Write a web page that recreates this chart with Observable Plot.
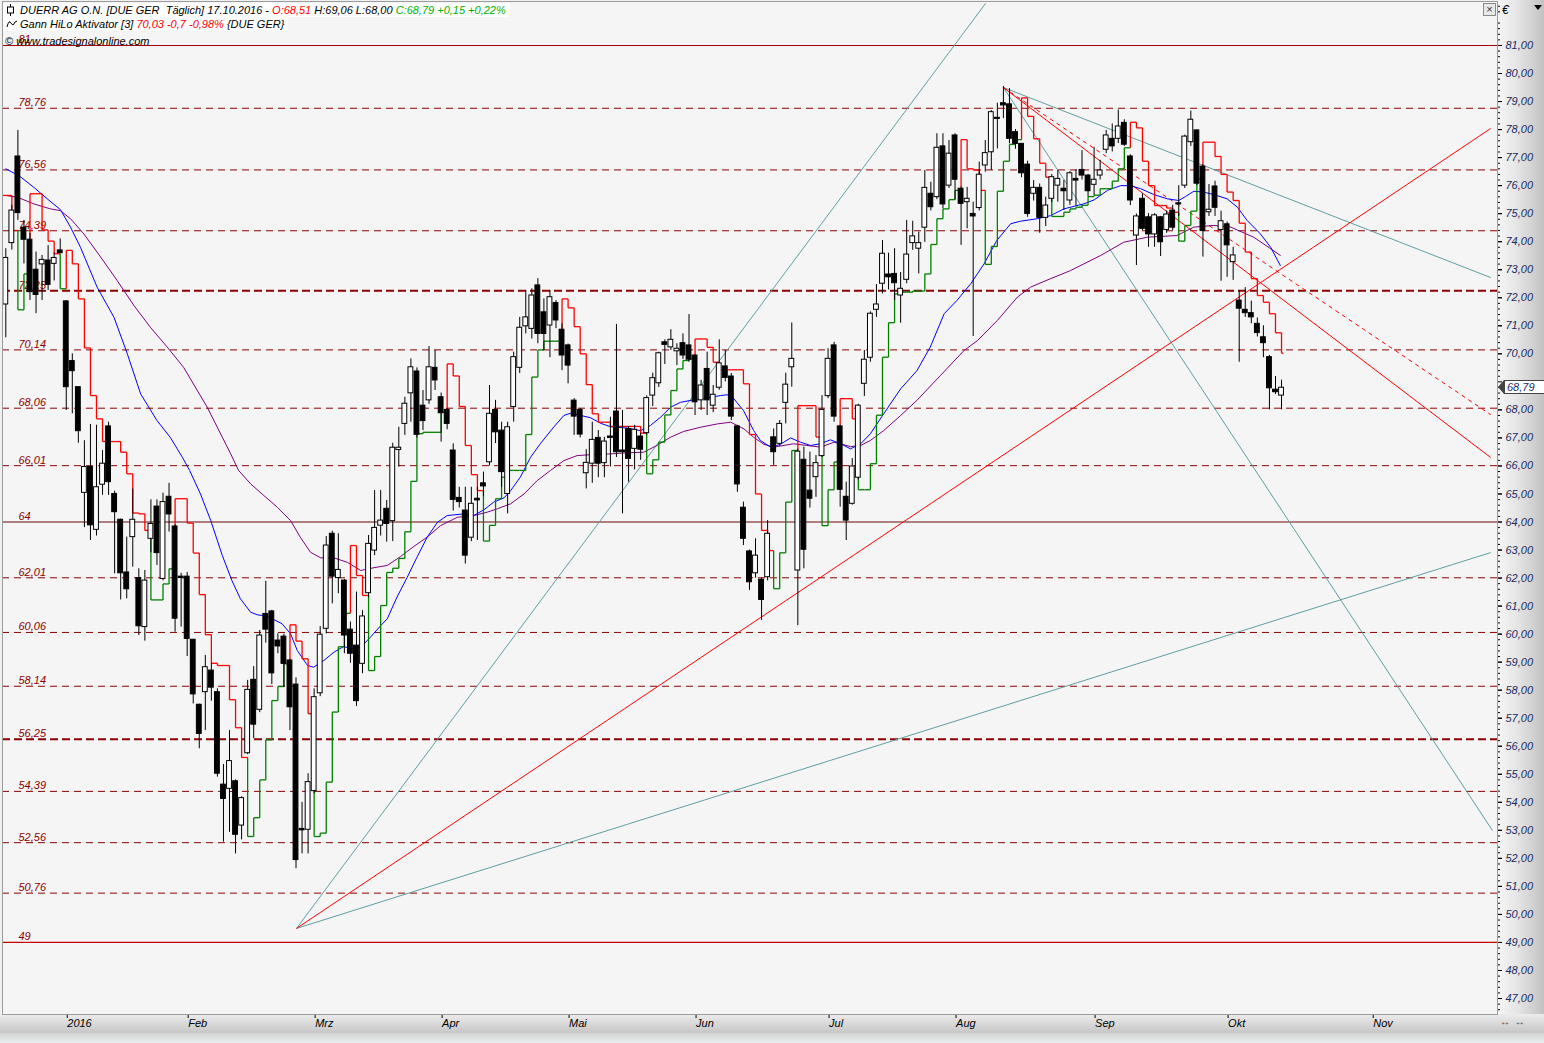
<!DOCTYPE html>
<html lang="de">
<head>
<meta charset="utf-8">
<script src="https://cdn.jsdelivr.net/npm/d3@7"></script>
<script src="https://cdn.jsdelivr.net/npm/@observablehq/plot@0.6"></script>
<style>
html,body{margin:0;padding:0;background:#f0f0f0;}
#wrap{position:relative;width:1544px;height:1043px;overflow:hidden;font-family:"Liberation Sans",Arial,sans-serif;font-style:italic;}
#rpanel{position:absolute;left:1497px;top:0;width:47px;height:1014px;background:linear-gradient(to right,#f6f6f6 0%,#e4e4e4 45%,#c2c2c2 100%);}
#bpanel{position:absolute;left:0;top:1014px;width:1544px;height:19px;background:linear-gradient(#ececec,#c6c6c6);}
#bstrip{position:absolute;left:0;top:1033px;width:1544px;height:10px;background:linear-gradient(#d2d2d2,#e9eeee);}
#chart{position:absolute;left:0;top:0;}
#chart svg text{font-style:italic;}
.hl{position:absolute;left:3px;height:14px;line-height:14px;font-size:11px;background:#fff;padding:0 4px 0 17px;white-space:pre;color:#000;}
.hl svg{position:absolute;left:3px;top:1px;}
.red{color:#ff0000;} .grn{color:#00b000;}
#copy{position:absolute;left:5px;top:35px;font-size:11px;color:#000;white-space:pre;}
#euro{position:absolute;left:1502px;top:3px;font-size:12px;color:#000;}
#tri{position:absolute;left:1534px;top:5px;width:0;height:0;border-left:4px solid transparent;border-right:4px solid transparent;border-top:5px solid #000;}
#xbox{position:absolute;left:1483px;top:3px;width:11px;height:11px;border:1px solid #8a8a8a;background:#e8e8e8;font-size:11px;line-height:10px;text-align:center;color:#333;font-style:normal;}
#lastbox{position:absolute;left:1504px;width:37px;height:12px;border:1px solid #444;background:#fff;font-size:11px;line-height:12px;color:#1a2b5e;padding-left:2px;}
#lastarrow{position:absolute;left:1498px;width:0;height:0;border-top:7px solid transparent;border-bottom:7px solid transparent;border-right:6px solid #444;}
#nav{position:absolute;left:1500px;top:1016px;font-size:10px;color:#333;font-style:normal;letter-spacing:1px;}
</style>
</head>
<body>
<div id="wrap">
  <div id="rpanel"></div>
  <div id="bpanel"></div>
  <div id="bstrip"></div>
  <div id="chart"></div>
  <div class="hl" style="top:3px;"><svg width="9" height="12"><line x1="4.5" y1="0" x2="4.5" y2="12" stroke="#000"/><rect x="1.5" y="3" width="6" height="6" fill="#fff" stroke="#000"/></svg>DUERR AG O.N. [DUE GER  Täglich] 17.10.2016 - <span class="red">O:68,51</span> H:69,06 L:68,00 <span class="grn">C:68,79 +0,15 +0,22%</span></div>
  <div class="hl" style="top:17px;"><svg width="12" height="12"><path d="M1 9 Q3 1 5 5 T9 4 L11 3" fill="none" stroke="#000"/></svg>Gann HiLo Aktivator [3] <span class="red">70,03 -0,7 -0,98%</span> {DUE GER}</div>
  <div id="copy">© www.tradesignalonline.com</div>
  <div id="xbox">×</div>
  <div id="euro">€</div>
  <div id="tri"></div>
  <div id="nav">↔ ↔</div>
</div>
<script>
// ---------- data ----------
const open = [71.76,73.95,77.04,74.5,74.07,73.0,73.19,73.33,73.21,73.69,
 71.87,69.74,68.81,65.04,65.96,63.72,65.33,67.41,65.0,64.08,
 62.2,63.46,62.0,60.25,63.4,64.55,61.97,64.9,63.84,62.05,
 62.05,59.8,57.48,57.93,58.7,57.93,54.63,54.48,54.75,53.17,
 55.75,58.37,57.3,60.72,60.81,59.77,59.91,59.06,58.2,53.05,
 53.02,54.4,57.89,60.19,63.58,62.0,61.91,60.16,59.59,58.94,
 61.46,62.98,63.87,64.47,64.03,66.57,67.5,68.59,69.37,68.15,
 68.34,69.5,68.45,68.0,66.55,64.86,64.41,63.44,64.83,65.38,
 66.13,68.0,67.26,65.0,68.1,69.5,70.98,70.89,72.44,71.48,
 71.01,71.81,70.86,70.3,68.33,68.0,65.74,66.08,67.0,66.1,
 67.05,67.94,66.55,67.32,66.61,67.05,67.17,68.51,68.95,70.41,
 70.23,70.09,70.38,70.3,69.94,68.34,69.46,68.15,68.79,69.55,
 69.19,67.41,64.51,62.95,62.17,61.94,62.03,67.02,66.79,68.25,
 69.52,62.27,66.22,65.12,65.6,66.35,68.49,70.3,67.41,64.9,
 64.65,65.58,68.93,69.86,71.57,72.5,72.83,72.85,72.08,72.64,
 73.95,73.75,74.5,75.71,75.59,77.4,76.0,77.79,75.89,75.41,
 74.99,75.2,76.72,77.19,78.42,78.94,78.9,77.91,77.49,76.75,
 75.71,75.92,74.85,75.53,76.0,75.89,75.47,76.24,76.56,76.36,
 76.03,76.36,77.28,77.67,77.67,78.24,77.04,74.22,75.53,74.87,
 74.26,74.87,74.42,75.11,75.33,76.0,77.55,77.97,76.68,75.05,
 75.97,74.42,74.62,73.27,71.9,71.57,71.45,71.07,70.59,69.88,
 68.72,68.51];
const high = [73.75,75.3,77.97,74.76,74.3,73.63,73.51,73.86,73.6,74.1,
 71.9,70.0,68.81,66.9,67.48,67.45,66.55,67.56,65.1,64.1,
 63.46,65.18,62.33,62.27,64.79,64.79,65.03,65.38,63.9,62.17,
 62.2,59.8,57.5,59.24,58.96,58.05,55.35,56.56,54.8,54.2,
 58.35,58.84,60.13,61.88,60.85,60.01,60.0,59.1,58.44,54.0,
 55.02,58.05,60.27,63.48,63.67,63.58,61.95,60.43,61.5,60.84,
 63.52,65.12,65.12,64.77,66.81,67.38,68.45,69.82,69.5,68.69,
 70.26,70.12,68.6,68.05,66.79,65.24,65.24,65.24,65.24,65.78,
 68.87,68.34,67.56,67.56,70.06,71.3,72.26,72.32,72.68,71.96,
 72.26,71.9,71.07,70.35,68.4,68.05,66.58,67.56,67.26,67.02,
 67.74,71.05,67.98,67.4,67.45,67.17,68.5,69.31,70.06,70.5,
 70.86,70.36,70.71,71.4,69.96,69.05,70.06,68.87,70.5,70.12,
 69.3,67.45,64.71,63.0,63.4,62.0,64.05,67.32,67.62,69.31,
 71.1,66.6,66.67,66.49,66.37,68.51,70.18,70.41,67.45,65.42,
 66.26,68.2,70.12,71.5,72.47,74.04,73.59,73.75,72.9,74.76,
 74.73,74.34,76.54,76.12,77.85,77.85,77.61,77.85,75.95,75.94,
 75.41,76.84,77.61,78.68,78.94,79.54,79.46,78.0,77.5,76.87,
 76.18,76.06,75.59,76.4,76.54,76.18,76.5,76.56,77.25,76.4,
 77.37,76.9,77.97,78.2,78.7,78.35,77.1,74.99,75.71,75.0,
 75.0,74.9,75.1,75.3,76.0,77.8,78.66,78.0,76.75,76.04,
 76.16,75.09,74.7,73.8,72.26,72.36,71.88,71.28,71.0,69.94,
 69.19,69.06];
const low = [70.57,73.7,74.76,73.21,71.9,71.43,71.9,72.26,72.6,73.58,
 67.98,67.86,66.81,63.8,63.34,63.5,64.95,64.95,62.15,61.22,
 61.26,62.39,59.95,59.75,62.9,62.45,61.9,63.64,60.07,60.25,
 59.2,57.51,55.91,56.56,57.61,54.9,52.58,52.93,52.16,52.66,
 55.7,56.27,57.2,59.68,58.2,59.3,58.1,56.56,51.63,52.16,
 52.16,54.3,57.77,60.01,61.08,61.44,59.3,58.96,57.42,58.59,
 61.3,62.8,63.5,63.28,63.3,65.96,67.09,67.56,67.0,67.26,
 68.2,68.69,66.85,67.29,64.39,64.5,62.5,63.3,63.34,64.9,
 66.0,66.8,65.24,64.29,67.56,69.3,70.71,70.53,70.36,70.12,
 69.86,70.9,69.4,68.93,67.09,67.0,65.18,65.38,65.58,65.58,
 65.96,66.3,64.29,65.42,65.86,66.2,67.1,68.12,68.8,69.62,
 70.12,69.58,69.8,69.7,67.8,67.98,67.8,67.9,68.7,69.0,
 67.62,65.06,63.16,61.56,62.0,60.49,61.9,66.02,66.7,67.5,
 68.81,60.3,62.33,64.5,64.88,66.3,68.4,67.56,64.53,63.34,
 64.6,65.5,68.48,69.7,71.3,72.14,72.28,71.9,71.09,72.5,
 73.69,72.85,73.98,75.1,75.5,75.17,75.9,75.49,73.87,74.46,
 70.62,75.1,76.48,76.54,77.31,78.39,77.49,77.3,76.28,74.87,
 75.45,74.3,74.54,75.4,75.41,75.11,75.3,75.26,76.2,75.6,
 75.65,76.2,77.14,77.2,77.5,77.4,75.29,73.15,74.4,73.8,
 73.8,73.47,74.3,74.4,74.9,75.9,77.4,76.0,73.45,74.9,
 74.9,72.59,72.73,72.62,69.7,71.3,71.07,70.6,69.86,68.0,
 68.55,68.0];
const close = [73.42,75.11,75.02,74.07,72.2,72.1,73.35,72.46,73.42,73.59,
 68.81,69.38,67.24,65.96,63.88,65.24,66.08,65.42,64.35,62.17,
 61.6,64.08,60.28,61.91,63.93,62.89,64.71,64.27,60.55,62.0,
 59.83,57.85,56.44,58.82,58.09,55.02,54.12,55.47,52.84,54.15,
 58.01,56.77,59.95,60.16,58.6,59.56,58.94,57.39,51.94,53.0,
 54.72,57.75,59.98,63.16,62.05,62.29,59.95,59.3,57.61,60.63,
 63.22,63.79,64.05,63.93,66.65,66.65,68.22,69.52,67.11,67.6,
 69.52,69.05,67.88,67.5,64.79,64.71,62.8,64.65,64.77,65.27,
 67.86,67.2,65.78,67.38,69.88,70.93,71.3,72.08,70.71,70.71,
 72.02,71.19,69.94,69.58,67.76,67.12,66.11,66.93,66.08,66.87,
 67.0,66.49,66.49,66.25,67.29,66.58,68.42,69.13,70.02,70.32,
 70.5,70.18,69.94,69.79,68.27,68.87,68.34,68.54,69.66,69.14,
 67.76,65.34,63.4,61.85,62.8,61.22,63.58,66.49,67.5,68.9,
 69.82,66.51,63.01,64.83,66.1,68.0,69.82,67.76,65.15,64.05,
 65.98,68.15,69.79,71.43,71.76,73.57,72.73,72.52,72.32,73.54,
 74.19,73.95,75.92,75.23,77.35,75.33,77.14,76.21,75.35,75.53,
 74.9,76.39,77.16,78.62,78.38,78.86,77.67,77.49,76.44,74.99,
 75.92,74.85,75.29,76.3,76.24,75.8,76.44,76.18,76.36,75.8,
 76.21,76.54,77.79,77.4,78.11,77.46,75.47,74.9,74.46,74.26,
 74.94,73.98,74.97,74.5,75.3,77.75,78.35,76.07,74.38,75.14,
 75.21,74.73,73.87,73.51,71.61,71.45,71.3,70.74,70.38,68.77,
 68.63,68.79];

// Gann HiLo Aktivator [3] values and state (G = below price / up, R = above price / down)
const hilo = [75.65,74.40,71.57,72.85,75.71,75.71,74.42,74.02,73.57,72.32,
 73.69,73.21,71.96,70.21,68.51,67.68,66.87,66.87,66.87,66.49,
 65.72,64.32,64.29,63.7,61.22,61.22,61.79,62.33,64.83,64.83,
 63.96,62.89,61.41,59.98,58.96,58.88,58.88,57.66,56.66,55.6,
 52.78,53.45,54.8,56.23,57.63,58.13,58.94,60.33,59.75,59.12,
 57.16,52.78,52.9,54.72,57.22,59.55,60.74,63.16,62.09,61.38,
 58.7,59.2,61.02,62.2,62.35,62.7,63.65,65.45,67.15,67.2,
 67.2,67.2,67.92,69.64,69.21,68.12,66.73,65.69,65.12,63.32,
 63.88,64.83,65.6,65.84,65.84,65.84,67.12,69.17,70.14,70.45,
 70.45,70.45,71.96,71.64,70.97,70.0,68.9,67.86,67.56,67.56,
 67.41,67.41,67.41,67.41,67.41,67.17,65.72,66.22,66.85,67.82,
 68.69,69.46,69.76,69.82,70.53,70.53,70.23,69.7,69.43,69.43,
 69.43,69.43,68.93,67.12,65.0,63.7,62.98,61.62,62.9,64.71,
 66.55,68.15,68.15,68.15,67.03,63.87,65.15,66.14,68.4,68.4,
 67.68,65.15,65.15,66.08,67.81,69.88,71.11,72.14,72.2,72.2,
 72.24,72.24,72.85,73.9,74.82,75.17,75.5,75.83,77.64,76.6,
 76.56,75.83,73.19,73.83,75.8,76.87,77.47,77.64,79.13,78.47,
 77.67,76.8,76.3,74.9,74.9,75.05,75.17,75.23,75.3,75.61,
 75.66,75.89,75.89,76.16,76.6,77.35,78.26,78.06,76.87,76.0,
 75.29,75.29,75.2,75.05,74.02,74.58,75.09,76.24,77.55,77.55,
 77.04,76.4,75.77,75.47,74.66,73.63,72.68,72.08,71.84,71.43,
 70.75,70.02];
const hiloState = ("RRGGRRRRRG"+"RRRRRRRRRR"+"RRRRGGGGRR"+"RRRRRRRRRR"+"GGGGGGGRRR"+
 "RGGGGGGRRR"+"GGGGGGGGGG"+"GGGRRRRRRG"+"GGGGGGGGGG"+"GGRRRRRRRR"+
 "RRRRRRGGGG"+"GGGGRRRRRR"+"RRRRRRRGGG"+"GRRRRGGGRR"+"RGGGGGGGGG"+
 "GGGGGGGGRR"+"RRGGGGGGRR"+"RRRGGGGGGG"+"GGGGGGRRRR"+"RRRRGGGGRR"+
 "RRRRRRRRRR"+"RR").split("");

// moving averages: [candle index, price]
const maFast = [[0,76.60],[2.15,76.36],[4.63,75.94],[6.85,75.53],[9.05,75.14],[10.7,74.52],[12.35,73.80],[15.1,72.38],[17.9,71.30],[20.1,70.00],[22.3,68.57],[25.0,67.62],[27.2,67.02],[29.2,66.31],[30.4,65.84],[32.2,65.0],[33.9,64.05],[35.8,62.81],[37.4,61.91],[38.8,61.26],[40.5,60.78],[41.6,60.69],[43.2,60.64],[45.7,60.37],[47.1,60.01],[48.2,59.42],[49.9,58.88],[50.9,58.82],[52.6,59.06],[54.3,59.36],[55.9,59.56],[57.0,59.48],[58.7,59.53],[60.3,59.89],[62.0,60.30],[63.1,60.55],[64.7,61.32],[66.4,62.03],[68.0,62.74],[69.7,63.46],[71.4,63.99],[73.0,64.23],[75.8,64.29],[77.4,64.23],[79.1,64.44],[80.7,64.71],[82.4,64.86],[83.5,65.12],[85.1,65.6],[86.8,66.31],[88.4,66.79],[90.6,67.38],[92.3,67.80],[93.4,67.88],[95.1,67.80],[96.7,67.72],[98.4,67.52],[100.0,67.40],[102.8,67.35],[105.0,67.26],[106.6,67.44],[108.3,67.74],[110.0,68.10],[111.6,68.27],[113.8,68.36],[116.0,68.43],[118.2,68.51],[119.3,68.54],[120.4,68.40],[122.0,67.98],[123.7,67.26],[124.8,66.91],[126.5,66.67],[128.1,66.77],[129.8,67.00],[131.4,66.85],[133.1,66.73],[134.7,66.79],[136.4,66.93],[138.1,66.79],[139.7,66.61],[141.4,66.79],[143.0,67.15],[145.2,67.86],[148.0,68.75],[150.7,69.40],[152.9,70.24],[155.2,71.43],[157.3,71.90],[159.6,72.5],[161.8,73.21],[163.9,74.04],[166.2,74.64],[167.8,74.73],[170.6,74.82],[172.8,74.93],[175.0,75.17],[178.3,75.35],[180.0,75.49],[182.2,75.83],[184.4,76.0],[186.0,76.0],[187.7,75.89],[189.9,75.68],[192.1,75.53],[194.0,75.47],[195.1,75.61],[196.5,75.80],[198.1,75.77],[199.8,75.68],[202.0,75.53],[203.7,75.23],[205.3,74.76],[207.5,74.28],[209.2,73.80],[210.8,73.15]];
const maSlow = [[0,75.65],[1.9,75.59],[4.6,75.35],[7.4,75.17],[9.0,75.11],[10.7,74.82],[12.9,74.28],[15.7,73.45],[18.4,72.62],[21.2,71.72],[23.9,70.95],[26.7,70.24],[29.4,69.52],[33.3,68.1],[37.2,66.43],[38.5,65.84],[40.5,65.36],[42.7,64.94],[44.9,64.53],[47.1,64.05],[48.7,63.46],[50.4,62.92],[52.1,62.72],[54.3,62.72],[56.5,62.56],[58.7,62.27],[60.9,62.37],[63.1,62.45],[65.3,62.77],[67.5,63.13],[69.7,63.46],[71.9,63.87],[74.7,64.17],[77.4,64.23],[79.6,64.35],[81.3,64.47],[83.5,64.65],[85.7,65.0],[87.9,65.48],[90.1,65.84],[92.3,66.19],[94.5,66.37],[97.3,66.41],[100.0,66.43],[102.8,66.47],[105.5,66.49],[107.7,66.73],[109.9,67.02],[112.1,67.23],[114.9,67.38],[117.7,67.50],[119.9,67.56],[122.1,67.32],[123.7,67.02],[125.4,66.77],[127.0,66.67],[130.3,66.79],[132.5,66.73],[134.8,66.67],[137.0,66.85],[139.7,66.69],[141.4,66.73],[143.0,66.91],[145.2,67.26],[148.0,67.8],[150.7,68.34],[154.6,69.23],[158.5,70.12],[160.7,70.47],[164.0,71.19],[167.3,72.02],[169.5,72.38],[172.8,72.68],[176.1,72.97],[181.1,73.51],[184.9,73.98],[188.8,74.16],[193.7,74.22],[196.5,74.52],[199.8,74.58],[202.6,74.52],[206.4,74.16],[209.2,73.75],[210.8,73.51]];

// horizontal levels
const levelValues = [81,78.76,76.56,74.39,72.25,70.14,68.06,66.01,64,62.01,60.06,58.14,56.25,54.39,52.56,50.76,49];
const levelLabels = ["81","78,76","76,56","74,39","72,25","70,14","68,06","66,01","64","62,01","60,06","58,14","56,25","54,39","52,56","50,76","49"];

// drawn trend lines: [index1, price1, index2, price2]
const tealLines = [[48.08,49.5,162.05,82.5],[48.08,49.5,245.6,62.91],[165,79.5,245.9,52.99],[165,79.5,245.6,72.72]];
const redLines = [[48.08,49.5,245.6,78.04],[165,79.5,245.6,66.3]];
const redDashedLines = [[165,79.5,245.6,67.83]];

// axes
const priceTicks = d3.range(47,82);
const monthIdx = [10,30,51,72,93,114,136,157,180,202,226];
const monthLabels = ["2016","Feb","Mrz","Apr","Mai","Jun","Jul","Aug","Sep","Okt","Nov"];

// ---------- build ----------
const n = open.length;
const lastClose = close[n-1];
const candles = open.map((o,i)=>({i,o,h:high[i],l:low[i],c:close[i]}));
const RED = "#ff0000", GREEN = "#008000";
const segs = [];
for (let i=0;i<n;i++){
  const col = hiloState[i]==="G" ? GREEN : RED;
  const xa = i===0 ? i-0.6 : i;
  const xb = i===n-1 ? i+0.3 : i+1;
  segs.push({x1:xa,x2:xb,y1:hilo[i],y2:hilo[i],col});
  if (i>0 && hilo[i]!==hilo[i-1]) segs.push({x1:i,x2:i,y1:hilo[i-1],y2:hilo[i],col});
}
const solidColor = new Map([[81,"#a00000"],[64,"#6a0a0a"],[49,"#c40000"]]);
const thick = new Set([72.25,56.25]);
const dashedLv = levelValues.filter(v=>!solidColor.has(v)&&!thick.has(v));
const thickLv = levelValues.filter(v=>thick.has(v));
const solidLv = levelValues.filter(v=>solidColor.has(v));
const minorTicks = d3.range(46.6,82.5,0.2).map(v=>+v.toFixed(1)).filter(v=>Math.abs(v-Math.round(v))>0.01);
// the axis label hidden behind the last-price marker (as in the reference)
const labelTicks = priceTicks.filter(v=>Math.abs(v-lastClose)>0.45);
const link4 = {x1:d=>d[0],y1:d=>d[1],x2:d=>d[2],y2:d=>d[3],clip:true};

const chart = Plot.plot({
  width:1544, height:1043,
  marginLeft:2, marginRight:47, marginTop:1, marginBottom:29,
  x:{type:"linear", domain:[-0.546,246.72]},
  y:{type:"linear", domain:[46.43,82.569]},
  color:{type:"identity"},
  style:{background:"transparent", fontFamily:"'Liberation Sans', Arial, sans-serif", fontSize:"11px", overflow:"visible"},
  marks:[
    Plot.frame({fill:"#f5f5f5", stroke:null}),
    Plot.ruleY(dashedLv, {stroke:"#8b0000", strokeWidth:1, strokeDasharray:"7,5"}),
    Plot.ruleY(thickLv, {stroke:"#8b0000", strokeWidth:2.2, strokeDasharray:"8,4"}),
    Plot.ruleY(solidLv, {stroke:d=>solidColor.get(d), strokeWidth:1.2}),
    Plot.text(levelValues, {y:d=>d, text:(d,i)=>levelLabels[i], frameAnchor:"left", dx:16, dy:-2, lineAnchor:"bottom", textAnchor:"start", fill:"#8b0000", fontSize:11, fontStyle:"italic"}),
    Plot.link(tealLines, {...link4, stroke:"#5f9ea0", strokeWidth:1}),
    Plot.link(redLines, {...link4, stroke:"#ff0000", strokeWidth:1}),
    Plot.link(redDashedLines, {...link4, stroke:"#ff0000", strokeWidth:1, strokeDasharray:"4,4"}),
    Plot.line(maSlow, {x:d=>d[0], y:d=>d[1], stroke:"#800080", strokeWidth:1}),
    Plot.line(maFast, {x:d=>d[0], y:d=>d[1], stroke:"#0000ff", strokeWidth:1}),
    Plot.link(segs, {x1:"x1", y1:"y1", x2:"x2", y2:"y2", stroke:"col", strokeWidth:1.3}),
    Plot.ruleX(candles, {x:"i", y1:"l", y2:"h", stroke:"#000", strokeWidth:1}),
    Plot.rect(candles, {x1:d=>d.i-0.4, x2:d=>d.i+0.4, y1:"o",
      y2:d=>Math.abs(d.c-d.o)<0.04 ? d.o+0.04 : d.c,
      fill:d=>d.c>=d.o ? "#ffffff" : "#000000", stroke:"#000", strokeWidth:1}),
    Plot.axisY(priceTicks, {anchor:"right", tickSize:4, tickFormat:()=>"", stroke:"#000"}),
    Plot.axisY(labelTicks, {anchor:"right", tickSize:4, tickPadding:4, tickFormat:d=>d.toFixed(2).replace(".",","), fill:"#1a2b5e", stroke:"#000", fontSize:11, fontStyle:"italic"}),
    Plot.axisY(minorTicks, {anchor:"right", tickSize:2, tickFormat:()=>"", stroke:"#000"}),
    Plot.axisX(monthIdx, {anchor:"bottom", tickSize:4, tickPadding:1, tickFormat:d=>monthLabels[monthIdx.indexOf(d)], textAnchor:"start", dx:1, fill:"#000", stroke:"#000", fontSize:11, fontStyle:"italic"}),
    Plot.frame({stroke:"#9c9c9c"})
  ]
});
document.getElementById("chart").appendChild(chart);

// last price marker on the right axis
const yLast = chart.scale("y").apply(lastClose);
const wrap = document.getElementById("wrap");
const arrow = document.createElement("div"); arrow.id="lastarrow"; arrow.style.top=(yLast-7)+"px";
const box = document.createElement("div"); box.id="lastbox"; box.style.top=(yLast-7)+"px";
box.textContent = lastClose.toFixed(2).replace(".",",");
wrap.appendChild(arrow); wrap.appendChild(box);
</script>
</body>
</html>
